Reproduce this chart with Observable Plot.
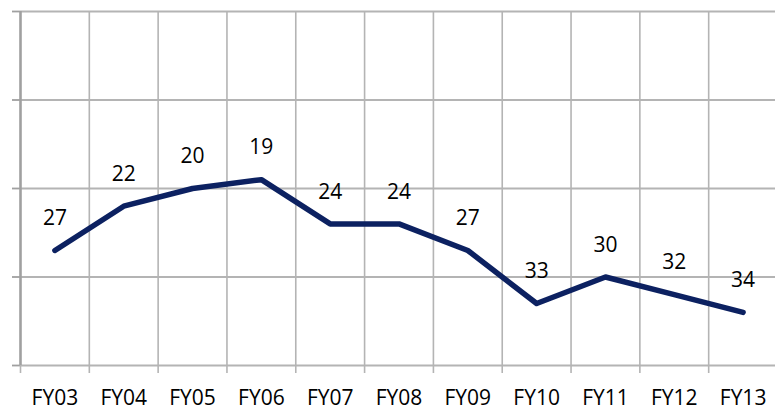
<!DOCTYPE html>
<html>
<head>
<meta charset="utf-8">
<script src="https://cdn.jsdelivr.net/npm/d3@7"></script>
<script src="https://cdn.jsdelivr.net/npm/@observablehq/plot@0.6"></script>
<style>
  html, body { margin: 0; padding: 0; background: #fff; }
</style>
</head>
<body>
<div id="chart"></div>
<script>
const years = ["FY03", "FY04", "FY05", "FY06", "FY07", "FY08", "FY09", "FY10", "FY11", "FY12", "FY13"];
const ranks = [27, 22, 20, 19, 24, 24, 27, 33, 30, 32, 34];
const yTicks = [0, 10, 20, 30, 40];

const data = years.map((fy, i) => ({i, fy, rank: ranks[i]}));
const edges = d3.range(years.length + 1).map(i => i - 0.5);
const centers = d3.range(years.length);
const grid = "#b4b4b4";

const chart = Plot.plot({
  width: 775,
  height: 412,
  marginLeft: 20,
  marginRight: -2,
  marginTop: 11,
  marginBottom: 47,
  style: {fontFamily: "'Open Sans', sans-serif", fontSize: "21px", background: "#fff", color: "#000"},
  x: {type: "linear", domain: [-0.5, years.length - 0.5], axis: null, label: null},
  y: {domain: [0, 40], reverse: true, axis: null, label: null},
  marks: [
    Plot.ruleY(yTicks, {stroke: grid, strokeWidth: 1.8}),
    Plot.ruleX(edges, {stroke: grid, strokeWidth: 1.6}),
    Plot.axisY({ticks: yTicks, tickSize: 8, tickFormat: () => "", label: null, stroke: "#a0a0a0", strokeWidth: 1.8}),
    Plot.axisX({ticks: edges, tickSize: 8, tickFormat: () => "", label: null, stroke: grid, strokeWidth: 1.6}),
    Plot.ruleX([-0.5], {stroke: "#a0a0a0", strokeWidth: 2.5}),
    Plot.axisX({ticks: centers, tickSize: 0, tickPadding: 25, tickFormat: i => years[i], label: null, fill: "#000"}),
    Plot.line(data, {x: "i", y: "rank", stroke: "#0c2161", strokeWidth: 5.5, strokeLinecap: "round", strokeLinejoin: "round"}),
    Plot.text(data, {x: "i", y: "rank", text: "rank", dy: -32, fill: "#000"})
  ]
});
document.getElementById("chart").appendChild(chart);
</script>
</body>
</html>
